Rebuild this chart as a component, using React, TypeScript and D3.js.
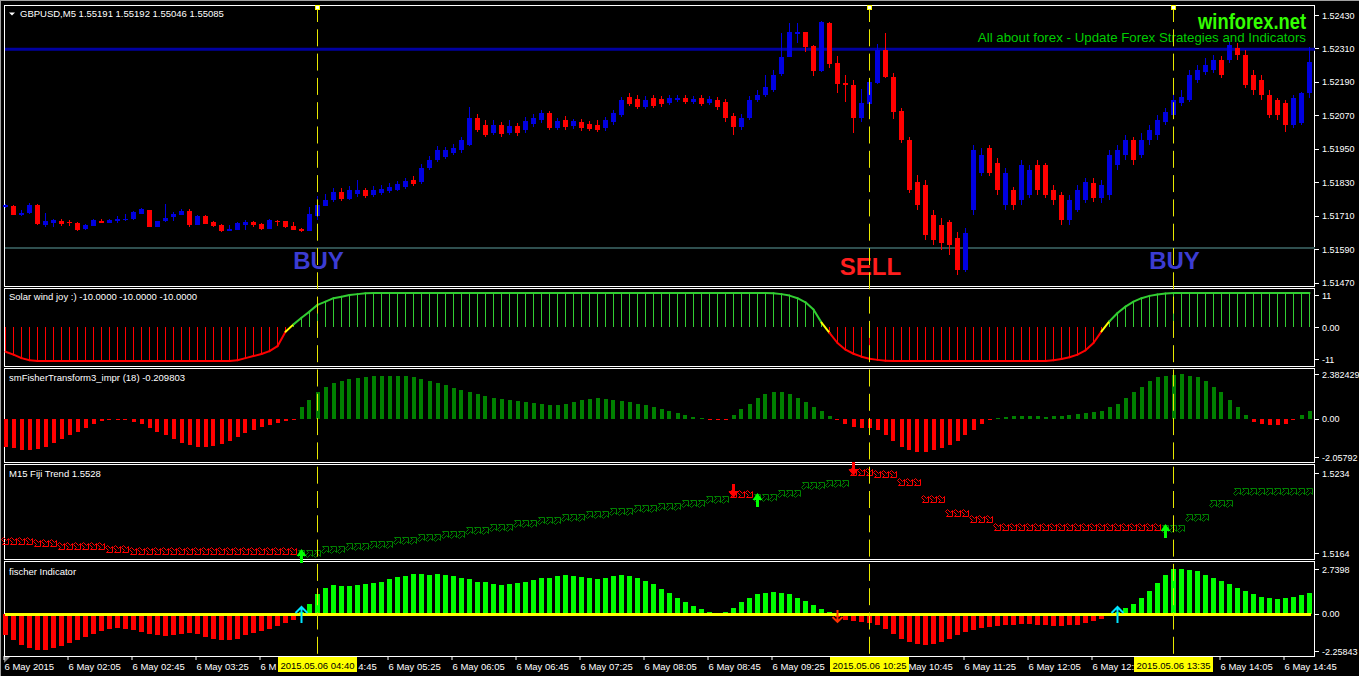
import React from 'react';
import * as d3 from 'd3';

// ---------- DATA ----------
const opens = [
  1.51742, 1.51745, 1.51713, 1.51720, 1.51749, 1.51677, 1.51684, 1.51691, 1.51688, 1.51684,
  1.51663, 1.51673, 1.51691, 1.51684, 1.51691, 1.51695, 1.51698, 1.51716, 1.51731, 1.51670,
  1.51691, 1.51706, 1.51713, 1.51727, 1.51677, 1.51709, 1.51688, 1.51677, 1.51655, 1.51659,
  1.51677, 1.51688, 1.51681, 1.51663, 1.51691, 1.51691, 1.51673, 1.51663, 1.51655, 1.51709,
  1.51745, 1.51767, 1.51795, 1.51770, 1.51788, 1.51803, 1.51785, 1.51792, 1.51799, 1.51803,
  1.51813, 1.51838, 1.51831, 1.51881, 1.51910, 1.51921, 1.51935, 1.51946, 1.51964, 1.52061,
  1.52036, 1.52007, 1.52036, 1.52007, 1.52032, 1.52018, 1.52039, 1.52054, 1.52079, 1.52025,
  1.52054, 1.52032, 1.52046, 1.52039, 1.52036, 1.52025, 1.52046, 1.52071, 1.52136, 1.52129,
  1.52100, 1.52132, 1.52129, 1.52114, 1.52125, 1.52132, 1.52118, 1.52132, 1.52114, 1.52125,
  1.52118, 1.52068, 1.52028, 1.52061, 1.52125, 1.52143, 1.52161, 1.52220, 1.52279, 1.52362,
  1.52369, 1.52319, 1.52229, 1.52401, 1.52258, 1.52186, 1.52179, 1.52061, 1.52111, 1.52186,
  1.52305, 1.52208, 1.52086, 1.51982, 1.51831, 1.51820, 1.51713, 1.51677, 1.51688, 1.51630,
  1.51516, 1.51731, 1.51863, 1.51953, 1.51899, 1.51749, 1.51803, 1.51767, 1.51785, 1.51892,
  1.51892, 1.51803, 1.51785, 1.51695, 1.51731, 1.51767, 1.51828, 1.51774, 1.51785, 1.51892,
  1.51928, 1.51982, 1.51928, 1.51982, 1.52000, 1.52046, 1.52071, 1.52114, 1.52125, 1.52197,
  1.52226, 1.52233, 1.52269, 1.52269, 1.52312, 1.52287, 1.52215, 1.52197, 1.52143, 1.52125,
  1.52114, 1.52036, 1.52043, 1.52150,
];
const highs = [
  1.51752, 1.51749, 1.51731, 1.51756, 1.51752, 1.51720, 1.51698, 1.51698, 1.51695, 1.51688,
  1.51681, 1.51698, 1.51698, 1.51698, 1.51709, 1.51716, 1.51727, 1.51738, 1.51731, 1.51691,
  1.51752, 1.51724, 1.51734, 1.51734, 1.51713, 1.51713, 1.51691, 1.51681, 1.51677, 1.51688,
  1.51695, 1.51691, 1.51684, 1.51698, 1.51695, 1.51691, 1.51688, 1.51666, 1.51742, 1.51781,
  1.51788, 1.51810, 1.51810, 1.51817, 1.51838, 1.51810, 1.51817, 1.51820, 1.51828, 1.51835,
  1.51846, 1.51853, 1.51896, 1.51924, 1.51960, 1.51957, 1.51967, 1.51993, 1.52100, 1.52075,
  1.52054, 1.52054, 1.52046, 1.52054, 1.52043, 1.52064, 1.52075, 1.52089, 1.52086, 1.52061,
  1.52068, 1.52057, 1.52057, 1.52050, 1.52054, 1.52064, 1.52089, 1.52136, 1.52150, 1.52143,
  1.52140, 1.52143, 1.52140, 1.52143, 1.52143, 1.52143, 1.52140, 1.52143, 1.52140, 1.52136,
  1.52129, 1.52079, 1.52075, 1.52140, 1.52161, 1.52215, 1.52233, 1.52366, 1.52401, 1.52401,
  1.52369, 1.52322, 1.52409, 1.52405, 1.52283, 1.52215, 1.52197, 1.52165, 1.52197, 1.52326,
  1.52366, 1.52222, 1.52097, 1.51993, 1.51856, 1.51838, 1.51731, 1.51702, 1.51695, 1.51652,
  1.51666, 1.51964, 1.51953, 1.51964, 1.51917, 1.51881, 1.51813, 1.51910, 1.51892, 1.51910,
  1.51899, 1.51820, 1.51795, 1.51785, 1.51820, 1.51846, 1.51846, 1.51838, 1.51946, 1.51964,
  1.52000, 1.51993, 1.52007, 1.52036, 1.52071, 1.52097, 1.52143, 1.52161, 1.52233, 1.52251,
  1.52276, 1.52287, 1.52283, 1.52333, 1.52330, 1.52305, 1.52233, 1.52215, 1.52161, 1.52132,
  1.52125, 1.52143, 1.52154, 1.52315,
];
const lows = [
  1.51738, 1.51713, 1.51709, 1.51716, 1.51677, 1.51670, 1.51670, 1.51673, 1.51673, 1.51655,
  1.51659, 1.51673, 1.51684, 1.51684, 1.51684, 1.51691, 1.51695, 1.51716, 1.51670, 1.51670,
  1.51688, 1.51691, 1.51713, 1.51670, 1.51677, 1.51681, 1.51670, 1.51652, 1.51655, 1.51659,
  1.51659, 1.51670, 1.51659, 1.51663, 1.51673, 1.51666, 1.51659, 1.51652, 1.51655, 1.51695,
  1.51745, 1.51759, 1.51763, 1.51767, 1.51777, 1.51774, 1.51777, 1.51785, 1.51792, 1.51799,
  1.51806, 1.51817, 1.51824, 1.51874, 1.51903, 1.51914, 1.51928, 1.51935, 1.51960, 1.52011,
  1.51993, 1.52000, 1.51993, 1.52000, 1.51996, 1.52007, 1.52028, 1.52043, 1.52018, 1.52018,
  1.52018, 1.52021, 1.52014, 1.52014, 1.52011, 1.52014, 1.52036, 1.52064, 1.52104, 1.52093,
  1.52093, 1.52097, 1.52100, 1.52107, 1.52118, 1.52111, 1.52111, 1.52104, 1.52107, 1.52089,
  1.52046, 1.52000, 1.52018, 1.52054, 1.52118, 1.52136, 1.52154, 1.52212, 1.52279, 1.52330,
  1.52297, 1.52212, 1.52226, 1.52240, 1.52150, 1.52118, 1.52007, 1.52046, 1.52107, 1.52183,
  1.52204, 1.52057, 1.51971, 1.51792, 1.51731, 1.51623, 1.51605, 1.51587, 1.51569, 1.51498,
  1.51508, 1.51713, 1.51853, 1.51853, 1.51784, 1.51731, 1.51731, 1.51749, 1.51774, 1.51785,
  1.51774, 1.51749, 1.51677, 1.51677, 1.51724, 1.51756, 1.51759, 1.51756, 1.51767, 1.51874,
  1.51910, 1.51892, 1.51917, 1.51964, 1.51982, 1.52036, 1.52061, 1.52104, 1.52118, 1.52186,
  1.52215, 1.52222, 1.52204, 1.52258, 1.52269, 1.52168, 1.52143, 1.52125, 1.52061, 1.52054,
  1.52011, 1.52025, 1.52036, 1.52132,
];
const closes = [
  1.51749, 1.51713, 1.51720, 1.51749, 1.51681, 1.51691, 1.51695, 1.51681, 1.51684, 1.51659,
  1.51677, 1.51695, 1.51684, 1.51695, 1.51698, 1.51698, 1.51724, 1.51734, 1.51670, 1.51691,
  1.51702, 1.51716, 1.51727, 1.51677, 1.51709, 1.51681, 1.51673, 1.51655, 1.51663, 1.51684,
  1.51688, 1.51677, 1.51663, 1.51695, 1.51690, 1.51670, 1.51659, 1.51655, 1.51716, 1.51749,
  1.51767, 1.51795, 1.51770, 1.51803, 1.51803, 1.51781, 1.51803, 1.51806, 1.51813, 1.51824,
  1.51835, 1.51824, 1.51881, 1.51910, 1.51946, 1.51946, 1.51953, 1.51982, 1.52061, 1.52018,
  1.52000, 1.52036, 1.52003, 1.52032, 1.52007, 1.52050, 1.52061, 1.52079, 1.52025, 1.52050,
  1.52028, 1.52050, 1.52025, 1.52021, 1.52018, 1.52054, 1.52079, 1.52125, 1.52111, 1.52100,
  1.52125, 1.52104, 1.52111, 1.52132, 1.52132, 1.52118, 1.52129, 1.52111, 1.52129, 1.52100,
  1.52061, 1.52028, 1.52061, 1.52125, 1.52143, 1.52172, 1.52215, 1.52279, 1.52369, 1.52369,
  1.52315, 1.52229, 1.52405, 1.52254, 1.52183, 1.52179, 1.52061, 1.52114, 1.52190, 1.52305,
  1.52208, 1.52082, 1.51982, 1.51803, 1.51749, 1.51641, 1.51623, 1.51612, 1.51605, 1.51516,
  1.51648, 1.51946, 1.51928, 1.51863, 1.51803, 1.51863, 1.51749, 1.51892, 1.51874, 1.51803,
  1.51785, 1.51767, 1.51695, 1.51767, 1.51803, 1.51831, 1.51774, 1.51820, 1.51928, 1.51946,
  1.51982, 1.51910, 1.51982, 1.52018, 1.52054, 1.52082, 1.52125, 1.52136, 1.52215, 1.52233,
  1.52251, 1.52269, 1.52215, 1.52322, 1.52287, 1.52179, 1.52161, 1.52143, 1.52071, 1.52071,
  1.52036, 1.52132, 1.52150, 1.52261,
];

const solarWind = [
  -8.5, -9.5, -10.7, -11.4, -11.7, -11.7, -11.7, -11.7, -11.7, -11.7,
  -11.7, -11.7, -11.7, -11.7, -11.7, -11.7, -11.7, -11.7, -11.7, -11.7,
  -11.7, -11.7, -11.7, -11.7, -11.7, -11.7, -11.7, -11.7, -11.7, -11.4,
  -10.7, -10.0, -9.3, -8.3, -6.6, -1.6, 0.9, 3.2, 5.3, 7.6,
  8.7, 9.9, 10.4, 11.0, 11.3, 11.6, 11.7, 11.7, 11.7, 11.7,
  11.7, 11.7, 11.7, 11.7, 11.7, 11.7, 11.7, 11.7, 11.7, 11.7,
  11.7, 11.7, 11.7, 11.7, 11.7, 11.7, 11.7, 11.7, 11.7, 11.7,
  11.7, 11.7, 11.7, 11.7, 11.7, 11.7, 11.7, 11.7, 11.7, 11.7,
  11.7, 11.7, 11.7, 11.7, 11.7, 11.7, 11.7, 11.7, 11.7, 11.7,
  11.7, 11.7, 11.7, 11.7, 11.7, 11.7, 11.6, 11.3, 10.8, 9.9,
  8.5, 6.0, 1.5, -2.0, -5.5, -7.8, -9.2, -10.2, -10.9, -11.3,
  -11.6, -11.7, -11.7, -11.7, -11.7, -11.7, -11.7, -11.7, -11.7, -11.7,
  -11.7, -11.7, -11.7, -11.7, -11.7, -11.7, -11.7, -11.7, -11.7, -11.7,
  -11.7, -11.4, -11.0, -10.4, -9.5, -8.0, -5.5, -1.5, 2.0, 4.8,
  7.0, 8.7, 9.9, 10.7, 11.2, 11.5, 11.7, 11.7, 11.7, 11.7,
  11.7, 11.7, 11.7, 11.7, 11.7, 11.7, 11.7, 11.7, 11.7, 11.7,
  11.7, 11.7, 11.7, 11.7,
];

const smFisher = [
  -1.5, -1.6, -1.7, -1.7, -1.65, -1.5, -1.3, -1.1, -0.9, -0.7,
  -0.5, -0.3, -0.15, -0.06, -0.05, -0.1, -0.2, -0.3, -0.5, -0.7,
  -0.9, -1.1, -1.3, -1.4, -1.5, -1.5, -1.45, -1.35, -1.2, -1.0,
  -0.8, -0.6, -0.45, -0.35, -0.25, -0.15, -0.05, 0.6, 1.0, 1.4,
  1.7, 1.9, 2.0, 2.1, 2.15, 2.2, 2.25, 2.3, 2.3, 2.3,
  2.25, 2.2, 2.1, 2.0, 1.9, 1.8, 1.65, 1.5, 1.4, 1.3,
  1.2, 1.1, 1.05, 1.0, 0.95, 0.9, 0.85, 0.8, 0.75, 0.75,
  0.8, 0.9, 1.0, 1.05, 1.1, 1.05, 1.0, 0.95, 0.9, 0.8,
  0.7, 0.6, 0.5, 0.4, 0.3, 0.2, 0.1, 0.05, -0.05, -0.1,
  -0.05, 0.2, 0.5, 0.8, 1.1, 1.3, 1.4, 1.4, 1.3, 1.1,
  0.9, 0.6, 0.4, 0.15, -0.1, -0.3, -0.45, -0.5, -0.5, -0.6,
  -0.9, -1.2, -1.5, -1.7, -1.8, -1.8, -1.7, -1.6, -1.4, -1.2,
  -0.9, -0.6, -0.3, -0.1, 0.05, 0.1, 0.12, 0.15, 0.15, 0.12,
  0.1, 0.12, 0.15, 0.2, 0.25, 0.3, 0.35, 0.4, 0.6, 0.8,
  1.1, 1.4, 1.7, 2.0, 2.2, 2.3, 2.35, 2.38, 2.3, 2.2,
  2.0, 1.7, 1.4, 1.0, 0.6, 0.2, -0.2, -0.3, -0.35, -0.35,
  -0.3, -0.1, 0.2, 0.4,
];

const fischer = [
  -1.3, -1.6, -1.9, -2.1, -2.2, -2.2, -2.1, -1.95, -1.8, -1.6,
  -1.4, -1.2, -1.05, -0.9, -0.85, -0.9, -1.0, -1.1, -1.2, -1.3,
  -1.35, -1.3, -1.2, -1.15, -1.2, -1.4, -1.55, -1.6, -1.6, -1.5,
  -1.3, -1.14, -1.02, -0.91, -0.71, -0.55, -0.37, 0.12, 0.61, 1.22,
  1.59, 1.77, 1.71, 1.71, 1.77, 1.83, 1.89, 1.95, 2.13, 2.26,
  2.32, 2.44, 2.44, 2.38, 2.44, 2.38, 2.32, 2.2, 2.13, 1.95,
  1.95, 1.83, 1.77, 1.83, 1.89, 1.95, 2.07, 2.2, 2.2, 2.3,
  2.35, 2.3, 2.25, 2.2, 2.15, 2.2, 2.3, 2.35, 2.3, 2.2,
  2.0, 1.8, 1.55, 1.25, 1.0, 0.75, 0.5, 0.3, 0.1, 0.05,
  0.1, 0.35, 0.7, 1.0, 1.2, 1.3, 1.35, 1.3, 1.2, 1.0,
  0.8, 0.55, 0.3, 0.1, -0.2, -0.35, -0.45, -0.5, -0.55, -0.65,
  -0.9, -1.2, -1.5, -1.7, -1.85, -1.9, -1.85, -1.7, -1.5, -1.3,
  -1.1, -0.95, -0.85, -0.8, -0.75, -0.7, -0.65, -0.6, -0.6, -0.65,
  -0.7, -0.75, -0.75, -0.7, -0.65, -0.55, -0.45, -0.3, -0.15, 0.1,
  0.35, 0.6, 0.95, 1.4, 1.9, 2.4, 2.74, 2.72, 2.7, 2.6,
  2.4, 2.2, 2.0, 1.8, 1.6, 1.4, 1.2, 1.05, 0.95, 0.9,
  0.95, 1.05, 1.15, 1.3,
];

// M15 Fiji trend: level (price) and direction (+1 up / -1 down) per bar
const fijiLevel = [
  1.51745, 1.51745, 1.51745, 1.51745, 1.51728, 1.51728, 1.51728, 1.51701, 1.51701, 1.51701,
  1.51701, 1.51701, 1.51701, 1.51675, 1.51675, 1.51675, 1.51658, 1.51658, 1.51658, 1.51658,
  1.51658, 1.51658, 1.51658, 1.51658, 1.51658, 1.51658, 1.51658, 1.51658, 1.51658, 1.51658,
  1.51658, 1.51658, 1.51658, 1.51658, 1.51658, 1.51658, 1.51658, 1.51640, 1.51640, 1.51640,
  1.51675, 1.51675, 1.51675, 1.51701, 1.51701, 1.51701, 1.51719, 1.51719, 1.51719, 1.51754,
  1.51754, 1.51754, 1.51780, 1.51780, 1.51780, 1.51806, 1.51806, 1.51806, 1.51841, 1.51841,
  1.51841, 1.51868, 1.51868, 1.51868, 1.51903, 1.51903, 1.51903, 1.51929, 1.51929, 1.51929,
  1.51955, 1.51955, 1.51955, 1.51981, 1.51981, 1.51981, 1.52008, 1.52008, 1.52008, 1.52034,
  1.52034, 1.52034, 1.52051, 1.52051, 1.52051, 1.52078, 1.52078, 1.52078, 1.52113, 1.52113,
  1.52113, 1.52156, 1.52156, 1.52156, 1.52130, 1.52130, 1.52130, 1.52169, 1.52169, 1.52169,
  1.52231, 1.52231, 1.52231, 1.52253, 1.52253, 1.52253, 1.52349, 1.52349, 1.52349, 1.52331,
  1.52331, 1.52331, 1.52257, 1.52257, 1.52257, 1.52113, 1.52113, 1.52113, 1.51994, 1.51994,
  1.51994, 1.51938, 1.51938, 1.51938, 1.51868, 1.51868, 1.51868, 1.51868, 1.51868, 1.51868,
  1.51868, 1.51868, 1.51868, 1.51868, 1.51868, 1.51868, 1.51868, 1.51868, 1.51868, 1.51868,
  1.51868, 1.51868, 1.51868, 1.51868, 1.51868, 1.51859, 1.51859, 1.51859, 1.51955, 1.51955,
  1.51955, 1.52078, 1.52078, 1.52078, 1.52183, 1.52183, 1.52183, 1.52183, 1.52183, 1.52183,
  1.52183, 1.52183, 1.52183, 1.52183,
];
const fijiDir = [
  -1, -1, -1, -1, -1, -1, -1, -1, -1, -1,
  -1, -1, -1, -1, -1, -1, -1, -1, -1, -1,
  -1, -1, -1, -1, -1, -1, -1, -1, -1, -1,
  -1, -1, -1, -1, -1, -1, -1, 1, 1, 1,
  1, 1, 1, 1, 1, 1, 1, 1, 1, 1,
  1, 1, 1, 1, 1, 1, 1, 1, 1, 1,
  1, 1, 1, 1, 1, 1, 1, 1, 1, 1,
  1, 1, 1, 1, 1, 1, 1, 1, 1, 1,
  1, 1, 1, 1, 1, 1, 1, 1, 1, 1,
  1, -1, -1, -1, 1, 1, 1, 1, 1, 1,
  1, 1, 1, 1, 1, 1, -1, -1, -1, -1,
  -1, -1, -1, -1, -1, -1, -1, -1, -1, -1,
  -1, -1, -1, -1, -1, -1, -1, -1, -1, -1,
  -1, -1, -1, -1, -1, -1, -1, -1, -1, -1,
  -1, -1, -1, -1, -1, 1, 1, 1, 1, 1,
  1, 1, 1, 1, 1, 1, 1, 1, 1, 1,
  1, 1, 1, 1,
];
const fijiBuyBars = [37, 94, 145];
const fijiSellBars = [91, 106];
const fischerBuyBars = [37, 139];
const fischerSellBars = [104];

const priceTicks = [1.5243, 1.5231, 1.5219, 1.5207, 1.5195, 1.5183, 1.5171, 1.5159, 1.5147];
const priceTickLabels = ['1.52430', '1.52310', '1.52190', '1.52070', '1.51950', '1.51830', '1.51710', '1.51590', '1.51470'];
const hLinePrices = [1.52307, 1.51594];
const hLineColors = ['#0000a0', '#2f4f4f'];

const timeLabelBars = [0, 8, 16, 24, 32, 40, 48, 56, 64, 72, 80, 88, 96, 104, 112, 120, 128, 136, 144, 152, 160];
const timeLabels = [
  '6 May 2015', '6 May 02:05', '6 May 02:45', '6 May 03:25', '6 May 04:05', '6 May 04:45',
  '6 May 05:25', '6 May 06:05', '6 May 06:45', '6 May 07:25', '6 May 08:05', '6 May 08:45',
  '6 May 09:25', '6 May 10:05', '6 May 10:45', '6 May 11:25', '6 May 12:05', '6 May 12:45',
  '6 May 13:25', '6 May 14:05', '6 May 14:45',
];

const signalBars = [39, 108, 146];
const signalTimes = ['2015.05.06 04:40', '2015.05.06 10:25', '2015.05.06 13:35'];
const signalTexts = ['BUY', 'SELL', 'BUY'];
const signalColors = ['#3c3cd2', '#ff1e1e', '#3c3cd2'];

// ---------- LAYOUT ----------
const W = 1359;
const H = 676;
const PL = 4;
const PR = 1315;
const MAIN = [5, 286];
const SOLAR = [288, 366];
const SMF = [368, 462];
const FIJI = [464, 559];
const FIS = [561, 656];
const FONT = "'Liberation Sans', Arial, sans-serif";
const BOX_HALF = 39.5;
const TIME_FS = 9.5;

const BLUE = '#0000e0';
const RED = '#ff0000';

// approximate Arial/Liberation Sans advance widths (em) for the time-axis glyphs
const CHAR_EM: Record<string, number> = { ' ': 0.278, ':': 0.278, '.': 0.278, M: 0.833, a: 0.556, y: 0.5 };
const charW = (ch: string) => (CHAR_EM[ch] ?? 0.556) * TIME_FS;

const SE_PTS = [[-4, -2], [-2, -4], [1, -1], [3, -3], [3, 3], [-3, 3], [-1, 1]];
function arrowPath(cx: number, cy: number, dir: number) {
  return 'M' + SE_PTS.map(([a, b]) => `${cx + a},${cy + (dir < 0 ? b : -b)}`).join('L') + 'Z';
}
function bigDown(cx: number, bottom: number) {
  const t = bottom - 14;
  return `M${cx - 1.5},${t}L${cx + 1.5},${t}L${cx + 1.5},${t + 7}L${cx + 5},${t + 7}L${cx},${bottom}L${cx - 5},${t + 7}L${cx - 1.5},${t + 7}Z`;
}
function bigUp(cx: number, top: number) {
  const b = top + 14;
  return `M${cx - 1.5},${b}L${cx + 1.5},${b}L${cx + 1.5},${b - 7}L${cx + 5},${b - 7}L${cx},${top}L${cx - 5},${b - 7}L${cx - 1.5},${b - 7}Z`;
}

// part of a time label that is not covered by a highlighted box
function visiblePart(label: string, lx: number, boxes: number[][]) {
  let pos = lx;
  const starts: number[] = [];
  for (const ch of label) { starts.push(pos); pos += charW(ch); }
  const end = pos;
  for (const [a, b] of boxes) {
    if (end <= a || lx >= b) continue;
    if (lx >= a && end <= b) return null;
    if (lx < a) {
      let s = '';
      for (let i = 0; i < label.length; i++) {
        if (starts[i] + charW(label[i]) <= a + 0.5) s += label[i]; else break;
      }
      return { text: s, x: lx };
    }
    let k = 0;
    while (k < label.length && starts[k] < b - 1) k++;
    return { text: label.slice(k), x: starts[k] ?? end };
  }
  return { text: label, x: lx };
}

export default function App() {
  const n = closes.length;
  const x = d3.scaleLinear().domain([0, n - 1]).range([5.5, 1309.5]);
  const yMain = d3.scaleLinear().domain([1.5147, 1.5243]).range([282.5, 15]);
  const ySolar = d3.scaleLinear().domain([-11, 11]).range([359, 295]);
  const ySmf = d3.scaleLinear().domain([-2.05792, 2.382429]).range([457, 374]);
  const yFiji = d3.scaleLinear().domain([1.5164, 1.5234]).range([553, 473]);
  const yFis = d3.scaleLinear().domain([-2.25843, 2.7398]).range([651, 569]);
  const r = Math.round;

  const panels = [MAIN, SOLAR, SMF, FIJI, FIS];
  const boxes = signalBars.map((b) => [x(b) - BOX_HALF, x(b) + BOX_HALF]);

  const axisText = (txt: string, y: number, key: string) => (
    <g key={key}>
      <line x1={PR} x2={PR + 4} y1={r(y) + 0.5} y2={r(y) + 0.5} stroke="#fff" />
      <text x={PR + 7} y={y + 3.5} fill="#fff" fontSize={9} fontFamily={FONT}>{txt}</text>
    </g>
  );

  const solarSegs = [] as any[];
  for (let i = 0; i < n - 1; i++) {
    const a = solarWind[i];
    const b = solarWind[i + 1];
    const col = a < 0 && b < 0 ? '#ff0000' : a > 0 && b > 0 ? '#32cd32' : '#ffff00';
    solarSegs.push(
      <line key={'ss' + i} x1={x(i)} x2={x(i + 1)} y1={ySolar(a)} y2={ySolar(b)} stroke={col} strokeWidth={2} strokeLinecap="round" />
    );
  }

  return (
    <svg width={W} height={H} style={{ position: 'absolute', left: 0, top: 0, background: '#000' }}>
      <rect x={0} y={0} width={W} height={H} fill="#000" />
      <line x1={0} x2={W} y1={0.5} y2={0.5} stroke="#a0a0a0" />
      <line x1={0.5} x2={0.5} y1={0} y2={H} stroke="#a0a0a0" />

      {panels.map((p, i) => (
        <rect key={'pf' + i} x={PL + 0.5} y={p[0] + 0.5} width={PR - PL - 1} height={p[1] - p[0]} fill="none" stroke="#fff" />
      ))}

      {hLinePrices.map((p, i) => (
        <line key={'hl' + i} x1={PL + 1} x2={PR} y1={yMain(p)} y2={yMain(p)} stroke={hLineColors[i]} strokeWidth={i === 0 ? 3 : 2} />
      ))}

      {closes.map((c, i) => {
        const o = opens[i];
        const col = c > o ? BLUE : RED;
        const cx = x(i);
        const top = r(yMain(Math.max(o, c)));
        const bot = r(yMain(Math.min(o, c)));
        const hi = r(yMain(highs[i]));
        const lo = r(yMain(lows[i]));
        return (
          <g key={'c' + i}>
            <rect x={cx - 0.5} y={hi} width={1} height={Math.max(1, lo - hi)} fill={col} />
            <rect x={cx - 2.5} y={top} width={5} height={Math.max(1, bot - top)} fill={col} />
          </g>
        );
      })}

      <g transform="translate(1306,29) scale(0.833,1)">
        <text x={0} y={0} textAnchor="end" fill="#33ff00" fontSize={22} fontWeight="bold" fontFamily={FONT}>winforex.net</text>
      </g>
      <text x={1306} y={42} textAnchor="end" fill="#00cc00" fontSize={13.3} fontFamily={FONT}>All about forex - Update Forex Strategies and Indicators</text>

      <path d="M9,12.5L15,12.5L12,15.5Z" fill="#fff" />
      <text x={20} y={17} fill="#fff" fontSize={9.5} fontFamily={FONT}>GBPUSD,M5  1.55191 1.55192 1.55046 1.55085</text>

      {signalBars.map((b, i) => (
        <text key={'st' + i} x={x(b) + 1} y={i === 1 ? 275 : 269} textAnchor="middle" fill={signalColors[i]} fontSize={24} fontWeight="bold" fontFamily={FONT}>{signalTexts[i]}</text>
      ))}

      {solarWind.map((v, i) => (
        <line key={'sw' + i} x1={x(i)} x2={x(i)} y1={ySolar(0)} y2={ySolar(v)} stroke={v < 0 ? '#ff0000' : '#32cd32'} strokeWidth={1} />
      ))}
      {solarSegs}

      {smFisher.map((v, i) => {
        const y0 = r(ySmf(0));
        const y1 = r(ySmf(v));
        return <rect key={'sm' + i} x={Math.floor(x(i) - 1.5)} y={Math.min(y0, y1)} width={4} height={Math.max(1, Math.abs(y1 - y0))} fill={v >= 0 ? '#008000' : '#ff0000'} />;
      })}

      {fijiLevel.map((p, i) => (
        <path key={'fj' + i} d={arrowPath(x(i), r(yFiji(p)) + 0.5, fijiDir[i])} fill="none" stroke={fijiDir[i] < 0 ? '#ff0000' : '#008000'} strokeWidth={1} />
      ))}
      {fijiSellBars.map((b) => (
        <path key={'fs' + b} d={bigDown(x(b), r(yFiji(fijiLevel[b])) + 4)} fill="#ff0000" />
      ))}
      {fijiBuyBars.map((b) => (
        <path key={'fb' + b} d={bigUp(x(b), r(yFiji(fijiLevel[b])) - 4)} fill="#00ff00" />
      ))}

      {fischer.map((v, i) => {
        const y0 = r(yFis(0));
        const y1 = r(yFis(v));
        return <rect key={'fi' + i} x={x(i) - 2.5} y={Math.min(y0, y1)} width={5} height={Math.max(1, Math.abs(y1 - y0))} fill={v >= 0 ? '#00ff00' : '#ff0000'} />;
      })}
      <line x1={PL + 1} x2={1311} y1={r(yFis(0)) + 0.5} y2={r(yFis(0)) + 0.5} stroke="#ffff00" strokeWidth={3} />
      {fischerBuyBars.map((b) => (
        <path key={'cb' + b} d={`M${x(b) - 6},${yFis(0) - 1}L${x(b)},${yFis(0) - 7}L${x(b) + 6},${yFis(0) - 1}M${x(b)},${yFis(0) - 7}L${x(b)},${yFis(0) + 9}`} fill="none" stroke="#00e5ff" strokeWidth={2} />
      ))}
      {fischerSellBars.map((b) => (
        <path key={'cs' + b} d={`M${x(b) - 5},${yFis(0) + 3}L${x(b)},${yFis(0) + 8}L${x(b) + 5},${yFis(0) + 3}M${x(b)},${yFis(0) + 8}L${x(b)},${yFis(0) - 4}`} fill="none" stroke="#ff3000" strokeWidth={2} />
      ))}

      <text x={9} y={300} fill="#fff" fontSize={9.5} fontFamily={FONT}>Solar wind joy :) -10.0000 -10.0000 -10.0000</text>
      <text x={9} y={381} fill="#fff" fontSize={9.5} fontFamily={FONT}>smFisherTransform3_impr  (18) -0.209803</text>
      <text x={9} y={477} fill="#fff" fontSize={9.5} fontFamily={FONT}>M15 Fiji Trend 1.5528</text>
      <text x={9} y={575} fill="#fff" fontSize={9.5} fontFamily={FONT}>fischer Indicator</text>

      {signalBars.map((b, i) => (
        <g key={'vl' + i}>
          <line x1={x(b)} x2={x(b)} y1={5} y2={656} stroke="#e8e800" strokeWidth={1} strokeDasharray="17,7.3" />
          <rect x={x(b) - 2} y={5.5} width={4} height={4} fill="#fff" stroke="#ffff00" />
        </g>
      ))}

      {priceTicks.map((p, i) => axisText(priceTickLabels[i], yMain(p), 'pt' + i))}
      {axisText('11', ySolar(11), 'a1')}
      {axisText('0.00', ySolar(0), 'a2')}
      {axisText('-11', ySolar(-11), 'a3')}
      {axisText('2.382429', ySmf(2.382429), 'a4')}
      {axisText('0.00', ySmf(0), 'a5')}
      {axisText('-2.05792', ySmf(-2.05792), 'a6')}
      {axisText('1.5234', yFiji(1.5234), 'a7')}
      {axisText('1.5164', yFiji(1.5164), 'a8')}
      {axisText('2.7398', yFis(2.7398), 'a9')}
      {axisText('0.00', yFis(0), 'a10')}
      {axisText('-2.25843', yFis(-2.25843), 'a11')}

      <path d="M4,657L10,657L4,663Z" fill="#808080" />
      {timeLabelBars.map((b, i) => {
        const lx = x(b) - 1;
        const vis = visiblePart(timeLabels[i], lx, boxes);
        if (!vis || !vis.text) return null;
        return (
          <g key={'tl' + i}>
            <line x1={x(b) - 1.5} x2={x(b) - 1.5} y1={656} y2={660} stroke="#fff" />
            <text x={vis.x} y={670} fill="#fff" fontSize={TIME_FS} fontFamily={FONT}>{vis.text}</text>
          </g>
        );
      })}
      {signalBars.map((b, i) => (
        <g key={'sl' + i}>
          <rect x={x(b) - BOX_HALF} y={657} width={BOX_HALF * 2} height={15} fill="#ffff00" />
          <text x={x(b)} y={669} textAnchor="middle" fill="#000" fontSize={TIME_FS} fontFamily={FONT}>{signalTimes[i]}</text>
        </g>
      ))}
    </svg>
  );
}
